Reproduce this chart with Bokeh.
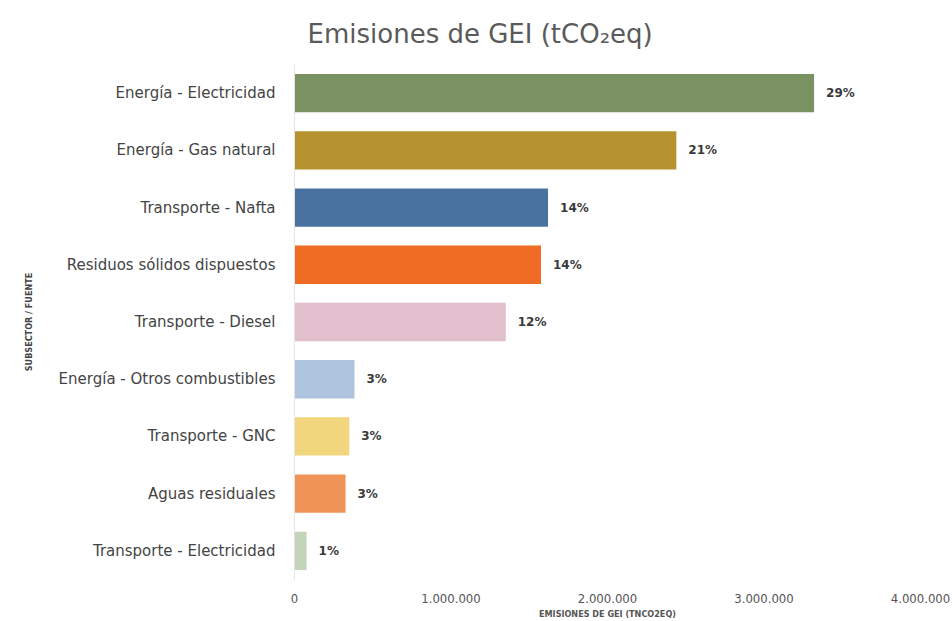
from bokeh.plotting import figure
from bokeh.models import ColumnDataSource, FactorRange, Range1d, FixedTicker
from bokeh.core.properties import value
from bokeh.embed import file_html
from bokeh.resources import INLINE

# Emisiones por subsector / fuente (tCO2eq)
categorias = [
    "Energía - Electricidad",
    "Energía - Gas natural",
    "Transporte - Nafta",
    "Residuos sólidos dispuestos",
    "Transporte - Diesel",
    "Energía - Otros combustibles",
    "Transporte - GNC",
    "Aguas residuales",
    "Transporte - Electricidad",
]
emisiones = [3320000, 2440000, 1620000, 1575000, 1350000, 383000, 350000, 326000, 77000]
porcentajes = ["29%", "21%", "14%", "14%", "12%", "3%", "3%", "3%", "1%"]
colores = ["#7a9162", "#b6932f", "#4a72a0", "#f06b23", "#e2bfcc",
           "#aec3de", "#f1d67d", "#ef9357", "#c4d4b9"]

ticks = [0, 1000000, 2000000, 3000000, 4000000]
tick_labels = ["0", "1.000.000", "2.000.000", "3.000.000", "4.000.000"]

src = ColumnDataSource(dict(cat=categorias, val=emisiones, pct=porcentajes, color=colores))

p = figure(
    width=952, height=621,
    y_range=FactorRange(factors=list(reversed(categorias))),
    x_range=Range1d(0, 4000000),
    output_backend="svg", toolbar_location=None,
    min_border_left=294, min_border_right=32, min_border_top=64, min_border_bottom=40,
)

p.title.text = "Emisiones de GEI (tCO₂eq)"
p.title.text_font = "DejaVu Sans"
p.title.text_font_style = "normal"
p.title.text_font_size = "26px"
p.title.text_color = "#5a5a5a"
p.title.align = "left"
p.title.offset = 13
p.title.standoff = 31

p.hbar(y="cat", right="val", left=0, height=0.67, color="color", line_color=None, source=src)
p.text(x="val", y="cat", text="pct", source=src, x_offset=12,
       text_baseline="middle", text_align="left",
       text_font=value("DejaVu Sans"), text_font_style="bold",
       text_font_size="12px", text_color="#3a3a3a")

p.outline_line_color = None
p.xgrid.grid_line_color = None
p.ygrid.grid_line_color = None

# eje horizontal
p.xaxis.ticker = FixedTicker(ticks=ticks)
p.xaxis.major_label_overrides = dict(zip(ticks, tick_labels))
p.xaxis.axis_line_color = None
p.xaxis.major_tick_line_color = None
p.xaxis.minor_tick_line_color = None
p.xaxis.major_label_text_font = "DejaVu Sans Condensed"
p.xaxis.major_label_text_font_size = "13px"
p.xaxis.major_label_text_color = "#555555"
p.xaxis.major_label_standoff = 8
p.xaxis.axis_label = "EMISIONES DE GEI (TNCO2EQ)"
p.xaxis.axis_label_text_font = "DejaVu Sans Condensed"
p.xaxis.axis_label_text_font_style = "bold"
p.xaxis.axis_label_text_font_size = "9px"
p.xaxis.axis_label_text_color = "#555555"
p.xaxis.axis_label_standoff = 3

# eje vertical
p.yaxis.axis_line_color = "#e4e4e4"
p.yaxis.major_tick_line_color = None
p.yaxis.minor_tick_line_color = None
p.yaxis.major_label_text_font = "DejaVu Sans"
p.yaxis.major_label_text_font_size = "15px"
p.yaxis.major_label_text_color = "#444444"
p.yaxis.major_label_standoff = 13
p.yaxis.axis_label = "SUBSECTOR / FUENTE"
p.yaxis.axis_label_text_font = "DejaVu Sans Condensed"
p.yaxis.axis_label_text_font_style = "bold"
p.yaxis.axis_label_text_font_size = "9px"
p.yaxis.axis_label_text_color = "#444444"
p.yaxis.axis_label_standoff = 22

open("out.html", "w").write(file_html(p, INLINE))
